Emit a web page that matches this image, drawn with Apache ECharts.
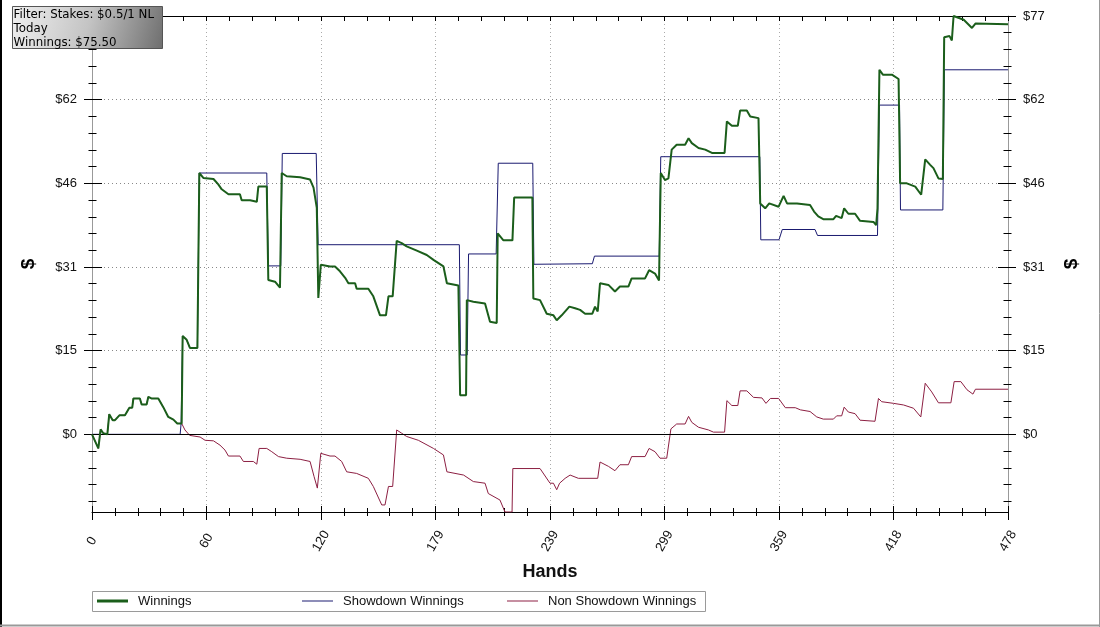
<!DOCTYPE html>
<html>
<head>
<meta charset="utf-8">
<script src="https://cdn.jsdelivr.net/npm/echarts@6/dist/echarts.min.js"></script>
<style>
html,body{margin:0;padding:0;background:#fff;}
#chart{width:1100px;height:627px;}
</style>
</head>
<body>
<div id="chart"></div>
<script>
// ---- data ----
const winnings = [
[0,0],[3.3,-2.6],[4.5,0.9],[5.9,0.2],[8,0],[8.6,0],[9,3.7],[10.8,2.6],[12,2.6],[14.3,3.5],[17.2,3.5],[19.5,4.9],[21,4.9],[21.6,6.6],[25,6.6],[25.9,5.5],[28.5,5.5],[29.4,6.9],[31,6.6],[34.6,6.6],[37.2,5.0],[39.8,3.2],[42.5,2.7],[44.5,2.0],[46.8,2.0],[47.3,18.1],[49.4,17.4],[51.1,15.9],[55,15.9],[56,48.1],[58.1,47.2],[63.4,47.0],[65.9,46.0],[67.7,45.1],[71.2,44.2],[77.2,44.2],[78.1,43.1],[82.5,43.1],[86,42.8],[86.8,45.6],[91.2,45.6],[92,28.4],[95.5,28.1],[98.1,27.0],[99,48.1],[101.6,47.5],[108.6,47.3],[113.8,46.9],[115.6,45.4],[117.3,41.7],[118.1,25.1],[119.4,31.2],[124.2,30.9],
[126.8,30.9],[129.4,30.0],[132.1,28.8],[133.8,27.8],[137.3,27.8],[138.1,26.8],[144.2,26.8],[146.8,25.4],[150.3,21.9],[153.4,21.9],[154.7,25.4],[156.9,25.4],[159,35.6],[161.6,35.2],[164.2,34.6],[169.5,33.8],[174.7,33.0],[178.2,32.1],[183.4,30.9],[185.2,27.8],[191.2,27.4],[192.1,7.2],[195.2,7.2],[195.6,24.7],[199,24.4],[205.1,24.1],[207.7,20.7],[211.2,20.5],[211.7,37.0],[214.7,35.7],[219.4,35.7],[220.3,43.6],[229.8,43.6],[230.3,25.0],[233.8,24.7],[237.3,22.2],[240.8,21.9],[242.5,21.0],[245.1,21.9],[249.1,23.5],
[252.1,23.2],[254.7,22.9],[257.3,22.2],[261.1,22.2],[262.5,23.5],[263.9,22.6],[265.1,27.8],[269.5,27.5],[272.9,26.3],[275.5,27.2],[279.9,27.2],[281.6,28.7],[288.6,28.7],[290.7,30.2],[293.8,29.6],[295.9,28.3],[296.8,48.1],[299,46.8],[300.8,47.1],[302.5,52.4],[305.1,53.3],[309.5,53.3],[311.3,54.5],[313,53.6],[316.5,52.7],[320,52.4],[323.5,51.8],[330.1,51.8],[331.3,57.6],[333.9,56.8],[337,56.8],[338.2,59.6],[341.7,59.6],[343.5,58.5],[347.8,58.2],[348.7,42.5],[351.3,41.6],[353.4,42.5],[358.3,41.9],[360.9,43.9],[362.7,42.5],[367.9,42.5],
[368.6,42.2],[374.7,42.2],[376.8,41.0],[379,40.1],[381.6,39.6],[386.9,39.6],[388.3,40.2],[391.2,39.8],[392.5,41.6],[394.7,40.6],[398.2,40.6],[400.8,39.3],[407.8,39.1],[409.2,38.5],[409.9,41.6],[410.9,67.1],[412.7,66.2],[417.4,66.2],[420.9,65.4],[421.7,46.2],[425.2,46.2],[429.6,45.6],[432.7,44.1],[434.8,50.6],[437.4,49.6],[439.1,49.0],[441.7,47.1],[444,47.0],[444.7,73.1],[447.5,73.3],[448.7,72.5],[449.6,77.0],[454.9,76.3],[459.2,74.8],[461,75.6],[478,75.5]
];
const showdown = [
[0,0],[46,0],[46.5,2.0],[47.3,18.1],[49.4,17.4],[51.1,15.9],[55,15.9],[56,48.1],[91.2,48.1],[92,31.0],[98.5,31.0],[99.3,51.7],[117,51.7],[118,34.9],[191.7,34.9],[192.3,14.6],[195.8,14.6],[196.5,33.2],[210.9,33.2],[212,49.9],[230,49.9],[230.6,31.3],[261.1,31.4],[262.2,32.8],[296,32.8],[296.8,51.1],[348.5,51.1],[349,35.8],[358.5,35.8],[360.2,37.7],[377.3,37.7],[378.6,36.6],[409.9,36.6],[410.9,60.6],[421.4,60.6],[421.9,41.3],[444,41.3],[444.8,67.1],[478,67.1]
];
const nonShowdown = [
[0,0],[3.3,-2.6],[4.5,0.9],[5.9,0.2],[8,0],[8.6,0],[9,3.7],[10.8,2.6],[12,2.6],[14.3,3.5],[17.2,3.5],[19.5,4.9],[21,4.9],[21.6,6.6],[25,6.6],[25.9,5.5],[28.5,5.5],[29.4,6.9],[31,6.6],[34.6,6.6],[37.2,5.0],[39.8,3.2],[42.5,2.7],[44.5,2.0],[46.8,2.0],[48.5,0.8],[51,-0.2],[56.4,-0.5],[59,-1.1],[63.4,-1.2],[66.8,-2.0],[69.4,-2.9],[71.2,-4.0],[77.2,-4.0],[79,-5.0],[84.2,-5.0],[86,-5.5],[87.2,-2.6],[91.2,-2.6],[93.8,-3.2],[97.3,-4.1],[101.6,-4.4],[108.6,-4.6],[113.8,-5.0],[115.9,-7.8],[117.6,-9.9],[119.4,-3.5],[124.2,-4.0],
[126.8,-4.0],[130.3,-5.0],[132.9,-6.9],[138.1,-7.2],[144.2,-8.1],[146.8,-9.6],[151.2,-13.0],[152.9,-13.0],[154.7,-9.6],[156.9,-9.6],[159,0.8],[161.6,0.2],[164.2,-0.4],[170.3,-1.1],[178.2,-2.6],[183.4,-3.8],[185.2,-6.9],[193.9,-7.5],[199,-8.7],[205.1,-9.0],[206.8,-10.9],[212.9,-12.1],[215.5,-14.3],[219.2,-14.3],[219.6,-6.3],[233.8,-6.3],[239,-9.0],[240.8,-9.0],[242.5,-10.2],[244,-9.0],[246.9,-8.1],[249.5,-7.5],[253.8,-8.1],[263.9,-8.1],[265.1,-5.1],[269.5,-5.9],[272.9,-6.7],[275.5,-5.6],[279.9,-5.6],[281.6,-4.1],[288.6,-4.1],[290.7,-2.6],[293.8,-3.2],[296.4,-4.4],[299.9,-4.4],[302.1,1.0],[305.1,1.9],[309.5,1.9],[311.3,3.3],[313,2.2],[316.5,1.3],[321.7,0.8],[324.3,0.4],[330.1,0.4],[331.3,6.2],[333.9,5.3],[337,5.3],[338.2,8.0],[341.7,8.0],[345.2,6.8],[349.6,6.7],[351.7,5.7],[354,6.6],[358.3,6.6],[361.8,4.9],[367,4.9],[369.7,4.5],[374.7,4.2],[378.2,3.2],[381.6,2.8],[386.9,2.8],[388.6,3.4],[391.2,3.4],[392.5,5.0],[394.7,4.1],[398.2,3.8],[400.8,2.6],[408.6,2.4],[410.4,6.6],[412.1,6.0],[418.3,5.7],[423.5,5.4],[428.7,4.8],[432.5,3.2],[434.8,9.4],[438.2,7.8],[441.7,5.8],[448.2,5.8],[449.9,9.7],[453.4,9.7],[456.6,8.2],[459.7,7.4],[461,8.3],[478,8.3]
];
const seriesNames = ['Winnings','Showdown Winnings','Non Showdown Winnings'];
const yMajorTicks = [0, 15.4, 30.8, 46.2, 61.6, 77];
const yMinorTicks = [-12.32,-9.24,-6.16,-3.08,3.08,6.16,9.24,12.32,18.48,21.56,24.64,27.72,33.88,36.96,40.04,43.12,49.28,52.36,55.44,58.52,64.68,67.76,70.84,73.92];
const xMin = 0, xMax = 478, xInterval = 59.75;
const yMin = -14.3, yMax = 77;
const infoLines = ['Filter: Stakes: $0.5/1 NL', 'Today', 'Winnings: $75.50'];

// ---- chart ----
const FONT = 'Liberation Sans, Arial, sans-serif';
const chart = echarts.init(document.getElementById('chart'), null, {renderer:'canvas'});

function yAx(opts){
  return Object.assign({
    type:'value', min:yMin, max:yMax, position:'left',
    axisLine:{show:false, onZero:false}, axisLabel:{show:false}, splitLine:{show:false},
    axisTick:{show:false}
  }, opts);
}
function tickSet(pos, values, len, inside){
  return yAx({position:pos, axisTick:{show:true, customValues:values, length:len, inside:inside, lineStyle:{color:'#000', width:1}}});
}
const yAxes = [
  yAx({
    position:'left', name:'$', nameLocation:'middle', nameGap:54,
    nameTextStyle:{fontFamily:FONT, fontSize:19, fontWeight:'bold', color:'#000'},
    axisLine:{show:true, onZero:false, lineStyle:{color:'#999', width:1}},
    axisTick:{show:true, customValues:yMajorTicks, length:8, lineStyle:{color:'#000'}},
    axisLabel:{show:true, customValues:yMajorTicks, margin:15, fontFamily:FONT, fontSize:13, color:'#111',
      formatter:v=>'$'+Math.round(v)},
    splitLine:{show:true, lineStyle:{type:[1,3], color:'#888', width:1}}
  }),
  yAx({
    position:'right', name:'$', nameLocation:'middle', nameGap:54,
    nameTextStyle:{fontFamily:FONT, fontSize:19, fontWeight:'bold', color:'#000'},
    axisLine:{show:true, onZero:false, lineStyle:{color:'#999', width:1}},
    axisTick:{show:true, customValues:yMajorTicks, length:8, lineStyle:{color:'#000'}},
    axisLabel:{show:true, customValues:yMajorTicks, margin:15, fontFamily:FONT, fontSize:13, color:'#111',
      formatter:v=>'$'+Math.round(v)}
  }),
  tickSet('left', yMajorTicks, 10, true),
  tickSet('left', yMinorTicks, 3.5, false),
  tickSet('left', yMinorTicks, 4.5, true),
  tickSet('right', yMajorTicks, 10, true),
  tickSet('right', yMinorTicks, 3.5, false),
  tickSet('right', yMinorTicks, 4.5, true)
];

function xAx(opts){
  return Object.assign({
    type:'value', min:xMin, max:xMax, interval:xInterval, position:'bottom',
    axisLine:{show:false, onZero:false}, axisLabel:{show:false}, splitLine:{show:false}, axisTick:{show:false}
  }, opts);
}
const xAxes = [
  xAx({
    name:'Hands', nameLocation:'middle', nameGap:51,
    nameTextStyle:{fontFamily:FONT, fontSize:18, fontWeight:'bold', color:'#111'},
    axisLine:{show:true, onZero:false, lineStyle:{color:'#000', width:1}},
    axisTick:{show:true, length:8, lineStyle:{color:'#000'}},
    minorTick:{show:true, splitNumber:5, length:4, lineStyle:{color:'#000'}},
    axisLabel:{show:true, rotate:60, align:'center', verticalAlign:'middle', margin:29,
      fontFamily:FONT, fontSize:13, color:'#111', showMinLabel:true, showMaxLabel:true,
      formatter:v=>String(Math.round(v))},
    splitLine:{show:true, lineStyle:{type:[1,3], color:'#aaa', width:1}}
  }),
  xAx({
    axisTick:{show:true, inside:true, length:6, lineStyle:{color:'#000'}},
    minorTick:{show:true, splitNumber:5, length:4, lineStyle:{color:'#000'}}
  }),
  xAx({
    position:'top',
    axisLine:{show:true, onZero:false, lineStyle:{color:'#000', width:1}},
    axisTick:{show:true, inside:true, length:5, lineStyle:{color:'#000'}},
    minorTick:{show:true, splitNumber:5, length:5, lineStyle:{color:'#000'}}
  })
];

const colors = ['#1b5e1b', '#1a1a70', '#8c1f42'];
const legendLeft = [97, 302, 507];
const legendThick = [3, 1, 1];

const option = {
  animation:false,
  backgroundColor:'#fff',
  grid:{left:92, right:92, top:16, bottom:115, containLabel:false},
  xAxis:xAxes,
  yAxis:yAxes,
  legend:seriesNames.map((n,i)=>({
    left:legendLeft[i], top:594, data:[{name:n, icon:'rect'}],
    itemWidth:31, itemHeight:legendThick[i], padding:0, selectedMode:false,
    textStyle:{fontFamily:FONT, fontSize:13, color:'#111', padding:[0,0,0,5], height:14, lineHeight:14}
  })),
  graphic:[
    {type:'rect', z:-10, silent:true, shape:{x:92.5, y:591.5, width:613, height:20},
     style:{fill:'#fff', stroke:'#9a9a9a', lineWidth:1}},
    {type:'line', silent:true, shape:{x1:1, y1:0, x2:1, y2:627}, style:{stroke:'#000', lineWidth:2}},
    {type:'line', silent:true, shape:{x1:1099.5, y1:0, x2:1099.5, y2:627}, style:{stroke:'#999', lineWidth:1}},
    {type:'line', silent:true, shape:{x1:0, y1:625.5, x2:1100, y2:625.5}, style:{stroke:'#999', lineWidth:2}},
    {type:'rect', z:100, zlevel:1, silent:true, shape:{x:12.5, y:6.5, width:150, height:42},
     style:{stroke:'#555', lineWidth:1,
       fill:new echarts.graphic.LinearGradient(0,0,1,1,[{offset:0,color:'#f0f0f0'},{offset:0.5,color:'#c4c4c4'},{offset:1,color:'#6e6e6e'}])}},
    ...infoLines.map((t,i)=>({type:'text', z:101, zlevel:1, silent:true,
      style:{text:t, x:13.5, y:14.5+i*14.2, verticalAlign:'middle',
        font:'11.8px "DejaVu Sans", Verdana, sans-serif', fill:'#000'}}))
  ],
  series:[
    {name:seriesNames[2], type:'line', data:nonShowdown, showSymbol:false, symbol:'none', z:3,
     lineStyle:{color:colors[2], width:1}, itemStyle:{color:colors[2]}},
    {name:seriesNames[1], type:'line', data:showdown, showSymbol:false, symbol:'none', z:4,
     lineStyle:{color:colors[1], width:1}, itemStyle:{color:colors[1]}},
    {name:seriesNames[0], type:'line', data:winnings, showSymbol:false, symbol:'none', z:5,
     lineStyle:{color:colors[0], width:2}, itemStyle:{color:colors[0]},
     markLine:{silent:true, symbol:'none', label:{show:false}, animation:false,
       lineStyle:{color:'#000', type:'solid', width:1}, data:[{yAxis:0}]}}
  ]
};
chart.setOption(option);
</script>
</body>
</html>
